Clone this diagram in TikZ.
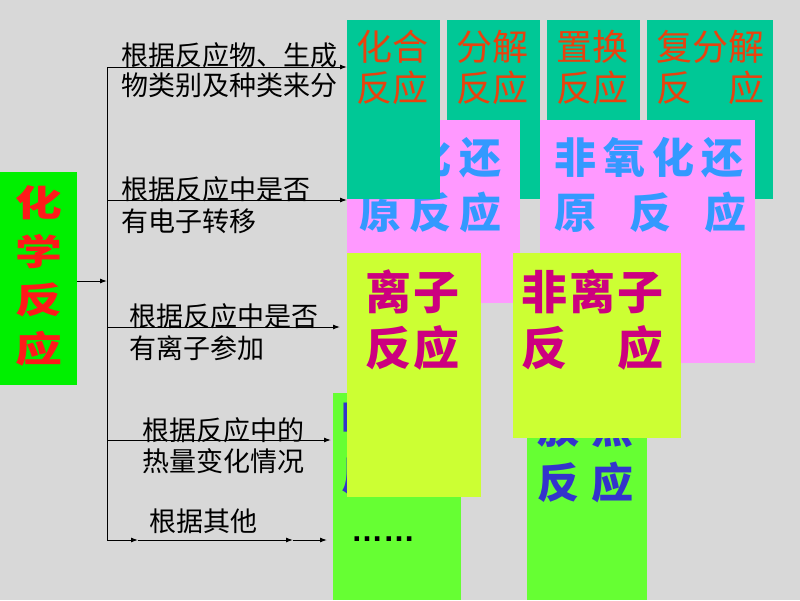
\documentclass[tikz,border=0pt]{standalone}
\usepackage{fontspec}
\newfontfamily\cjk{Noto Sans CJK SC}
\newfontfamily\cjkwide{Noto Sans CJK SC}[FakeStretch=1.3]
\newfontfamily\dotfont{Liberation Sans}
\usetikzlibrary{arrows.meta}
\definecolor{bg}{HTML}{D8D8D8}
\definecolor{tealbox}{HTML}{00C896}
\definecolor{pinkbox}{HTML}{FF99FF}
\definecolor{limebox}{HTML}{CCFF33}
\definecolor{greenbox}{HTML}{66FF33}
\definecolor{leftgreen}{HTML}{00F000}
\definecolor{orangetxt}{HTML}{E8420E}
\definecolor{bluetxt}{HTML}{3399FF}
\definecolor{magtxt}{HTML}{CC0080}
\definecolor{navytxt}{HTML}{3333CC}
\definecolor{redtxt}{HTML}{FF1A1A}
\begin{document}
\begin{tikzpicture}[x=1pt,y=-1pt,
  box/.style={anchor=north west, inner sep=0pt, outer sep=0pt},
  lbl/.style={anchor=west, inner sep=0pt, align=left, font=\cjk\fontsize{27}{32}\selectfont},
  tealtxt/.style={anchor=west, inner sep=0pt, align=left, text=orangetxt, font=\cjk\fontsize{36}{41}\selectfont},
  pinktxt/.style={anchor=west, inner sep=0pt, align=left, text=bluetxt, font=\cjk\bfseries\fontsize{42}{55}\selectfont},
  limetxt/.style={anchor=west, inner sep=0pt, align=left, text=magtxt, font=\cjk\bfseries\fontsize{46}{56}\selectfont},
  greentxt/.style={anchor=west, inner sep=0pt, align=left, text=navytxt, font=\cjk\bfseries\fontsize{42}{55}\selectfont},
  conn/.style={line width=1pt, -{Latex[length=7pt,width=5pt]}},
  ]
\fill[bg] (0,0) rectangle (800,600);
\useasboundingbox (0,0) rectangle (800,600);

% green boxes (bottom layer)
\node[box, fill=greenbox, minimum width=128pt, minimum height=207pt] (g1) at (333,393) {};
\node[greentxt] (g1t) at (341,447) {吸\hspace{12pt}热\\反\hspace{12pt}应};
\node[box, fill=greenbox, minimum width=120pt, minimum height=200pt] (g2) at (527,400) {};
\node[greentxt] (g2t) at (537,455.5) {放\hspace{12pt}热\\反\hspace{12pt}应};
\node[anchor=base west, inner sep=0pt, font=\dotfont\bfseries\fontsize{32}{32}\selectfont] (dots) at (351,541) {……};

% teal boxes 2-4
\node[box, fill=tealbox, minimum width=93pt, minimum height=179pt] (t2) at (447,20) {};
\node[tealtxt] (t2t) at (456,67.5) {分解\\反应};
\node[box, fill=tealbox, minimum width=93pt, minimum height=179pt] (t3) at (547,20) {};
\node[tealtxt] (t3t) at (556,67.5) {置换\\反应};
\node[box, fill=tealbox, minimum width=126pt, minimum height=179pt] (t4) at (647,20) {};
\node[tealtxt] (t4t) at (656,67.5) {复分解\\反　应};

% pink boxes
\node[box, fill=pinkbox, minimum width=173pt, minimum height=183pt] (p1) at (347,120) {};
\node[pinktxt] (p1t) at (359,185.5) {氧\hspace{8pt}化\hspace{8pt}还\\原\hspace{8pt}反\hspace{8pt}应};
\node[box, fill=pinkbox, minimum width=215pt, minimum height=243pt] (p2) at (540,120) {};
\node[pinktxt] (p2t) at (554,185.5) {非\hspace{7pt}氧\hspace{7pt}化\hspace{7pt}还\\原\hspace{33pt}反\hspace{33pt}应};

% teal box 1 (on top of pink)
\node[box, fill=tealbox, minimum width=93pt, minimum height=179pt] (t1) at (347,20) {};
\node[tealtxt] (t1t) at (356,67.5) {化合\\反应};

% lime boxes
\node[box, fill=limebox, minimum width=134pt, minimum height=244pt] (y1) at (347,253) {};
\node[limetxt] (y1t) at (365,320) {离\hspace{2pt}子\\反\hspace{2pt}应};
\node[box, fill=limebox, minimum width=168pt, minimum height=185pt] (y2) at (513,253) {};
\node[limetxt] (y2t) at (521,320) {非\hspace{2pt}离\hspace{2pt}子\\反\hspace{50pt}应};

% left box
\node[box, fill=leftgreen, minimum width=77pt, minimum height=213pt] (root) at (0,172) {};
\node[align=center, inner sep=0pt, text=redtxt, font=\cjkwide\bfseries\fontsize{36}{48.5}\selectfont] (roott) at (38.5,276) {化\\学\\反\\应};

% branch labels
\node[lbl, font=\cjk\fontsize{27}{30}\selectfont] (l1) at (121,70) {根据反应物、生成\\物类别及种类来分};
\node[lbl] (l2) at (121,205.5) {根据反应中是否\\有电子转移};
\node[lbl] (l3) at (129,332.5) {根据反应中是否\\有离子参加};
\node[lbl, font=\cjk\fontsize{27}{31}\selectfont] (l4) at (142,445.5) {根据反应中的\\热量变化情况};
\node[lbl] (l5) at (149,521) {根据其他};

% connectors
\coordinate (j) at (107,281);
\coordinate (b1) at (107,67);
\coordinate (b2) at (107,200);
\coordinate (b3) at (107,327);
\coordinate (b4) at (107,440);
\coordinate (b5) at (107,540);
\coordinate (e3) at (340,327);
\coordinate (e4) at (331,440);
\coordinate (m1) at (138,540);
\coordinate (m2) at (293,540);
\coordinate (e5) at (327,540);
\draw[line width=1pt] (b1) -- (b5);
\draw[conn] (root.east |- j) -- (j);
\draw[conn] (b1) -- (t1.west |- b1);
\draw[conn] (b2) -- (p1.west |- b2);
\draw[conn] (b3) -- (e3);
\draw[conn] (b4) -- (e4);
\draw[conn] (b5) -- (m1);
\draw[conn] (m1) -- (m2);
\draw[conn] (m2) -- (e5);
\end{tikzpicture}
\end{document}
